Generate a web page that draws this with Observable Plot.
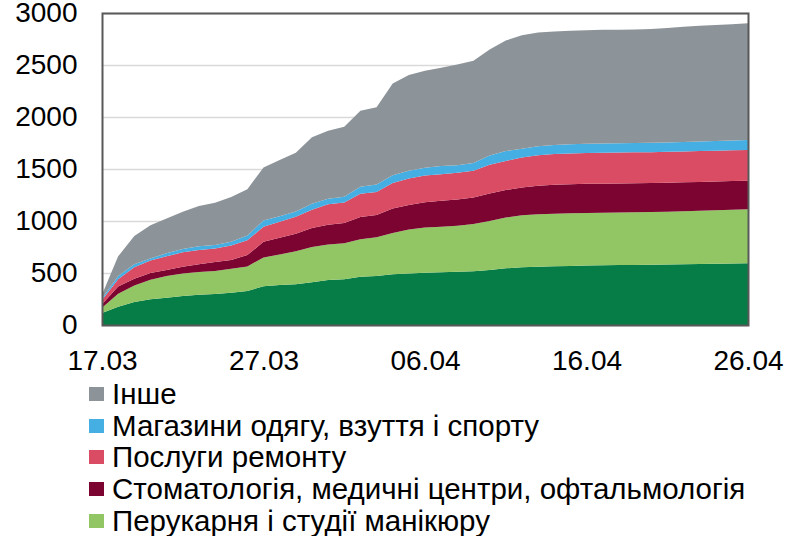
<!DOCTYPE html>
<html><head><meta charset="utf-8">
<script src="https://cdn.jsdelivr.net/npm/d3@7"></script>
<script src="https://cdn.jsdelivr.net/npm/@observablehq/plot@0.6"></script>
<style>
body{margin:0;background:#fff;font-family:Arial,"Liberation Sans",sans-serif;}
#chart svg{display:block}
.row{position:relative;height:31.7px;line-height:31.7px;font-size:29.5px;padding-left:112px;white-space:nowrap;color:#000}
.sw{position:absolute;left:89px;top:9px;width:15px;height:14px}
</style></head><body>
<div id="chart"></div><div id="legend"></div>
<script>
const dates = ["2020-03-17","2020-03-18","2020-03-19","2020-03-20","2020-03-21","2020-03-22","2020-03-23","2020-03-24","2020-03-25","2020-03-26",
"2020-03-27","2020-03-28","2020-03-29","2020-03-30","2020-03-31","2020-04-01","2020-04-02","2020-04-03","2020-04-04","2020-04-05",
"2020-04-06","2020-04-07","2020-04-08","2020-04-09","2020-04-10","2020-04-11","2020-04-12","2020-04-13","2020-04-14","2020-04-15",
"2020-04-16","2020-04-17","2020-04-18","2020-04-19","2020-04-20","2020-04-21","2020-04-22","2020-04-23","2020-04-24","2020-04-25","2020-04-26"];

const seriesNames = ["Нижня категорія","Перукарня і студії манікюру","Стоматологія, медичні центри, офтальмологія","Послуги ремонту","Магазини одягу, взуття і спорту","Інше"];
const seriesColors = ["#067d46","#92c665","#7b0431","#da4c64","#45aee3","#8d9499"];

const bottomSeries = [115,175,222,247,262,278,290,298,310,328,373,385,393,410,432,440,463,470,488,496,503,508,512,518,530,545,555,560,565,568,571,574,576,578,580,582,585,587,589,591,593];
const perukarnia = [50,125,158,188,208,217,220,222,230,235,277,293,317,340,343,345,362,373,397,422,435,437,443,452,470,488,500,505,505,506,506,506,506,506,507,508,509,511,514,517,519];
const stomatolohiia = [35,70,65,65,60,65,75,85,85,109,150,162,167,182,190,195,213,215,235,235,242,250,252,255,265,265,267,273,278,280,280,279,279,279,278,278,278,278,277,276,276];
const remont = [40,70,110,120,130,140,137,130,140,143,145,153,163,176,195,197,224,222,245,255,257,255,256,257,275,280,288,294,297,296,296,297,297,297,297,297,296,296,296,296,295];
const mahazyny = [15,30,30,20,30,30,36,35,35,45,60,52,52,57,55,55,68,70,75,74,76,78,74,76,90,94,85,86,85,88,89,89,90,90,90,90,92,93,94,95,96];
const inshe = [35,190,270,320,335,360,386,406,430,445,510,542,565,640,653,675,730,743,883,922,932,946,969,984,1020,1063,1090,1094,1092,1092,1093,1093,1092,1092,1093,1100,1108,1113,1115,1118,1122];

const yTicks = [0,500,1000,1500,2000,2500,3000];
const xTickDates = ["2020-03-17","2020-03-27","2020-04-06","2020-04-16","2020-04-26"];
const xTickLabels = ["17.03","27.03","06.04","16.04","26.04"];
const legendOrder = ["Інше","Магазини одягу, взуття і спорту","Послуги ремонту","Стоматологія, медичні центри, офтальмологія","Перукарня і студії манікюру"];

const seriesValues = [bottomSeries, perukarnia, stomatolohiia, remont, mahazyny, inshe];
const table = [];
seriesNames.forEach((s, k) => dates.forEach((d, i) => table.push({date: new Date(d), series: s, value: seriesValues[k][i]})));
const tickDates = xTickDates.map(d => new Date(d));
const labelMap = new Map(tickDates.map((d, i) => [+d, xTickLabels[i]]));

const chart = Plot.plot({
  width: 788, height: 378,
  marginLeft: 102, marginRight: 40, marginTop: 13, marginBottom: 53,
  style: {fontFamily: 'Arial, "Liberation Sans", sans-serif', fontSize: "28px", color: "#000", background: "#fff", overflow: "visible"},
  x: {type: "utc", domain: [new Date(dates[0]), new Date(dates[dates.length - 1])]},
  y: {domain: [0, 3000]},
  color: {domain: seriesNames, range: seriesColors},
  marks: [
    Plot.gridY(yTicks, {stroke: "#d9d9d9", strokeOpacity: 1, strokeWidth: 1.5}),
    Plot.areaY(table, {x: "date", y: "value", fill: "series", order: seriesNames}),
    Plot.axisY(yTicks, {tickSize: 0, tickPadding: 25, label: null, fontSize: 28, tickFormat: d => String(d)}),
    Plot.axisX(tickDates, {tickSize: 0, tickPadding: 25, label: null, fontSize: 28, tickFormat: d => labelMap.get(+d)}),
    Plot.frame({stroke: "#595959", strokeWidth: 2})
  ]
});
document.getElementById("chart").appendChild(chart);

const leg = document.getElementById("legend");
legendOrder.forEach(name => {
  const row = document.createElement("div");
  row.className = "row";
  const sw = document.createElement("span");
  sw.className = "sw";
  sw.style.background = seriesColors[seriesNames.indexOf(name)];
  row.appendChild(sw);
  row.appendChild(document.createTextNode(name));
  leg.appendChild(row);
});
</script>
</body></html>
